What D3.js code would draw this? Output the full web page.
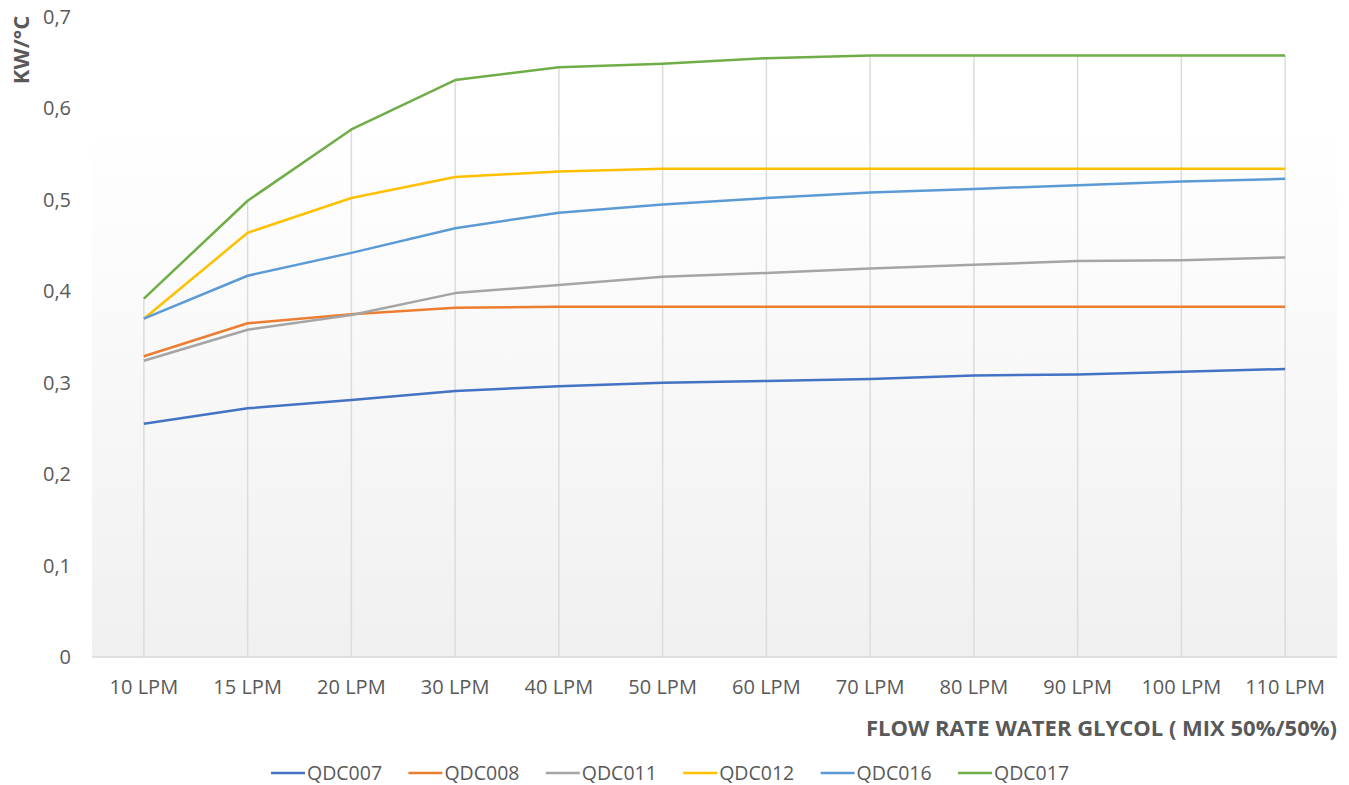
<!DOCTYPE html>
<html>
<head>
<meta charset="utf-8">
<script src="https://d3js.org/d3.v7.min.js"></script>
<style>
  body { margin: 0; background: #fff; }
  text { font-family: "Open Sans", "Liberation Sans", sans-serif; fill: #595959; }
</style>
</head>
<body>
<svg id="chart" width="1349" height="785"></svg>
<script>
// flow rates on the x axis
var flowRates = ['10 LPM', '15 LPM', '20 LPM', '30 LPM', '40 LPM', '50 LPM', '60 LPM', '70 LPM', '80 LPM', '90 LPM', '100 LPM', '110 LPM'];
var yTicks = [0, 0.1, 0.2, 0.3, 0.4, 0.5, 0.6, 0.7];
var seriesNames = ['QDC007', 'QDC008', 'QDC011', 'QDC012', 'QDC016', 'QDC017'];
var seriesColors = ['#4472C4', '#ED7D31', '#A5A5A5', '#FFC000', '#5B9BD5', '#70AD47'];

// kW/°C values
var qdc007 = [0.255, 0.272, 0.281, 0.291, 0.296, 0.300, 0.302, 0.304, 0.308, 0.309, 0.312, 0.315];
var qdc008 = [0.329, 0.365, 0.375, 0.382, 0.383, 0.383, 0.383, 0.383, 0.383, 0.383, 0.383, 0.383];
var qdc011 = [0.324, 0.358, 0.374, 0.398, 0.407, 0.416, 0.420, 0.425, 0.429, 0.433, 0.434, 0.437];
var qdc012 = [0.370, 0.464, 0.502, 0.525, 0.531, 0.534, 0.534, 0.534, 0.534, 0.534, 0.534, 0.534];
var qdc016 = [0.370, 0.417, 0.442, 0.469, 0.486, 0.495, 0.502, 0.508, 0.512, 0.516, 0.520, 0.523];
var qdc017 = [0.392, 0.499, 0.577, 0.631, 0.645, 0.649, 0.655, 0.658, 0.658, 0.658, 0.658, 0.658];

var seriesValues = [qdc007, qdc008, qdc011, qdc012, qdc016, qdc017];

var svg = d3.select('#chart');
var plotL = 92, plotR = 1337, plotT = 17, plotB = 657;

var x = d3.scaleBand().domain(flowRates).range([plotL, plotR]);
var y = d3.scaleLinear().domain([0, 0.7]).range([plotB, plotT]);
var cx = function(c) { return x(c) + x.bandwidth() / 2; };

// plot area gradient
var defs = svg.append('defs');
var grad = defs.append('linearGradient').attr('id', 'bg').attr('x1', 0).attr('y1', 0).attr('x2', 0).attr('y2', 1);
grad.append('stop').attr('offset', '0%').attr('stop-color', '#ffffff');
grad.append('stop').attr('offset', '100%').attr('stop-color', '#f0f0f0');
svg.append('rect')
  .attr('x', plotL).attr('y', 127)
  .attr('width', plotR - plotL).attr('height', plotB - 127)
  .attr('fill', 'url(#bg)');

// drop lines from the top value of each category
svg.append('g').selectAll('line')
  .data(flowRates).enter().append('line')
  .attr('x1', function(d) { return cx(d); })
  .attr('x2', function(d) { return cx(d); })
  .attr('y1', function(d, i) { return y(d3.max(seriesValues, function(s) { return s[i]; })); })
  .attr('y2', y(0))
  .attr('stroke', '#dcdcdc')
  .attr('stroke-width', 1.5);

// x axis line
svg.append('line')
  .attr('x1', plotL).attr('x2', plotR)
  .attr('y1', y(0)).attr('y2', y(0))
  .attr('stroke', '#d9d9d9').attr('stroke-width', 1.5);

// y tick labels
var fmt = function(v) { return v === 0 ? '0' : d3.format('.1f')(v).replace('.', ','); };
svg.append('g').selectAll('text')
  .data(yTicks).enter().append('text')
  .attr('x', 71)
  .attr('y', function(d) { return y(d); })
  .attr('dy', '0.35em')
  .attr('text-anchor', 'end')
  .style('font-size', '20px')
  .text(fmt);

// x tick labels
svg.append('g').selectAll('text')
  .data(flowRates).enter().append('text')
  .attr('x', function(d) { return cx(d); })
  .attr('y', 694)
  .attr('text-anchor', 'middle')
  .style('font-size', '20px')
  .text(function(d) { return d; });

// axis titles
svg.append('text')
  .attr('transform', 'translate(29,50) rotate(-90)')
  .attr('text-anchor', 'middle')
  .style('font-size', '22px')
  .style('font-weight', 'bold')
  .text('KW/°C');

svg.append('text')
  .attr('x', 1337).attr('y', 736)
  .attr('text-anchor', 'end')
  .style('font-size', '22px')
  .style('font-weight', 'bold')
  .text('FLOW RATE WATER GLYCOL ( MIX 50%/50%)');

// series lines
var line = d3.line()
  .x(function(d, i) { return cx(flowRates[i]); })
  .y(function(d) { return y(d); });

svg.append('g').selectAll('path')
  .data(seriesValues).enter().append('path')
  .attr('d', line)
  .attr('fill', 'none')
  .attr('stroke', function(d, i) { return seriesColors[i]; })
  .attr('stroke-width', 2.5)
  .attr('stroke-linejoin', 'round');

// legend
var legend = svg.append('g').attr('transform', 'translate(271,773)');
var item = legend.selectAll('g')
  .data(seriesNames).enter().append('g')
  .attr('transform', function(d, i) { return 'translate(' + (i * 137.4) + ',0)'; });
item.append('line')
  .attr('x1', 0).attr('x2', 34)
  .attr('stroke', function(d, i) { return seriesColors[i]; })
  .attr('stroke-width', 2.5);
item.append('text')
  .attr('x', 36).attr('dy', '0.35em')
  .style('font-size', '19.5px')
  .text(function(d) { return d; });
</script>
</body>
</html>
